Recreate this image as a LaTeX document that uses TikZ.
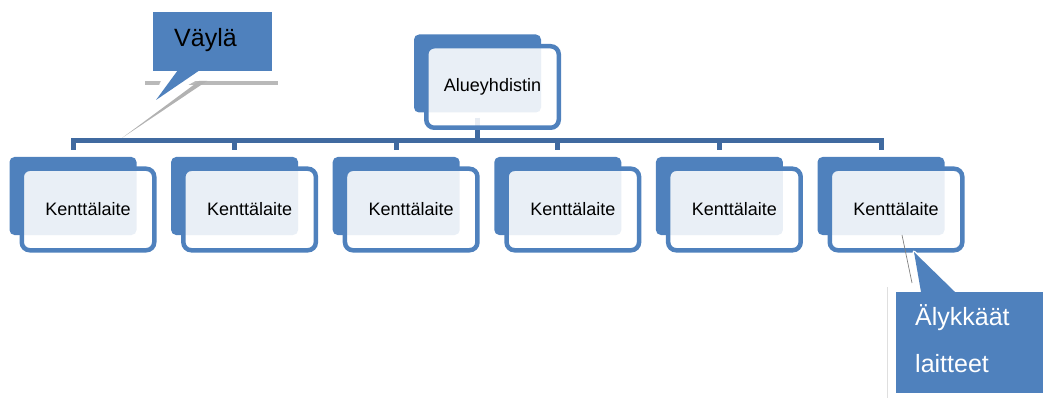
\documentclass[tikz,border=0pt]{standalone}
\usepackage{fontspec}
\setmainfont{Liberation Sans}
\usetikzlibrary{calc}
\definecolor{boxblue}{RGB}{79,129,189}
\definecolor{linkblue}{RGB}{64,106,160}
\begin{document}
\begin{tikzpicture}[x=1pt,y=-1pt,
  backbox/.style={fill=boxblue, rounded corners=5pt, minimum width=127pt,
    minimum height=78pt, inner sep=0pt},
  frontbox/.style={draw=boxblue, line width=4.5pt, fill=white, fill opacity=0.88,
    text opacity=1, rounded corners=8pt, minimum width=132.5pt,
    minimum height=81.5pt, inner sep=0pt, font=\fontsize{18}{20}\selectfont},
  link/.style={draw=linkblue, line width=5pt},
  calloutbox/.style={fill=boxblue, inner sep=0pt},
  callouttext/.style={anchor=base west, inner sep=0pt, font=\fontsize{25}{30}\selectfont}]
\useasboundingbox (0,0) rectangle (1043,398);

% back plates
\node[backbox] (bt) at (477.5,73.5) {};
\foreach \i in {1,...,6} {
  \node[backbox] (b\i) at ({73+161.6*(\i-1)},196) {};
}

% bus
\coordinate (bus) at (0,141);
\draw[link] ([yshift=-5pt]bt.south) -- (bt.south |- bus);
\draw[link] ([yshift=7pt]b1.north) -- (b1.north |- bus) -- (b6.north |- bus) -- ([yshift=7pt]b6.north);
\foreach \i in {2,...,5} {
  \draw[link] (b\i.north |- bus) -- ([yshift=7pt]b\i.north);
}

% front frames
\node[frontbox] (ft) at ($(bt)+(15,13.5)$) {Alueyhdistin};
\foreach \i in {1,...,6} {
  \node[frontbox] (f\i) at ($(b\i)+(15,13.5)$) {Kenttälaite};
}

% callout: Väylä
\fill[gray!55] (145,14) rectangle (278,85);
\fill[white] (145,8) rectangle (278,81);
\fill[white] (164,74) -- (208,74) -- (150,106) -- cycle;
\fill[gray!60] (199,81) -- (207,81) -- (122,138) -- cycle;
\node[calloutbox, minimum width=119pt, minimum height=59pt] (vaylabox) at (212.5,41.5) {};
\fill[boxblue] (178,70) -- (200,70) -- (156,100) -- cycle;
\node[callouttext] (vaylatext) at (174,47) {Väylä};

% callout: Älykkäät laitteet
\draw[gray!25, line width=0.8pt] (887,287) -- (887,398);
\draw[white, line width=3pt, line join=round] (914,252) -- (955,292) -- (921,292) -- cycle;
\node[calloutbox, minimum width=147pt, minimum height=101pt] (alybox) at (969.5,342.5) {};
\fill[boxblue] (914,252) -- (955,292) -- (921,292) -- cycle;
\draw[gray, line width=0.7pt] (902,235) -- (912,283);
\node[callouttext, text=white] (alytext1) at (915,325) {Älykkäät};
\node[callouttext, text=white] (alytext2) at (915,372) {laitteet};
\end{tikzpicture}
\end{document}
